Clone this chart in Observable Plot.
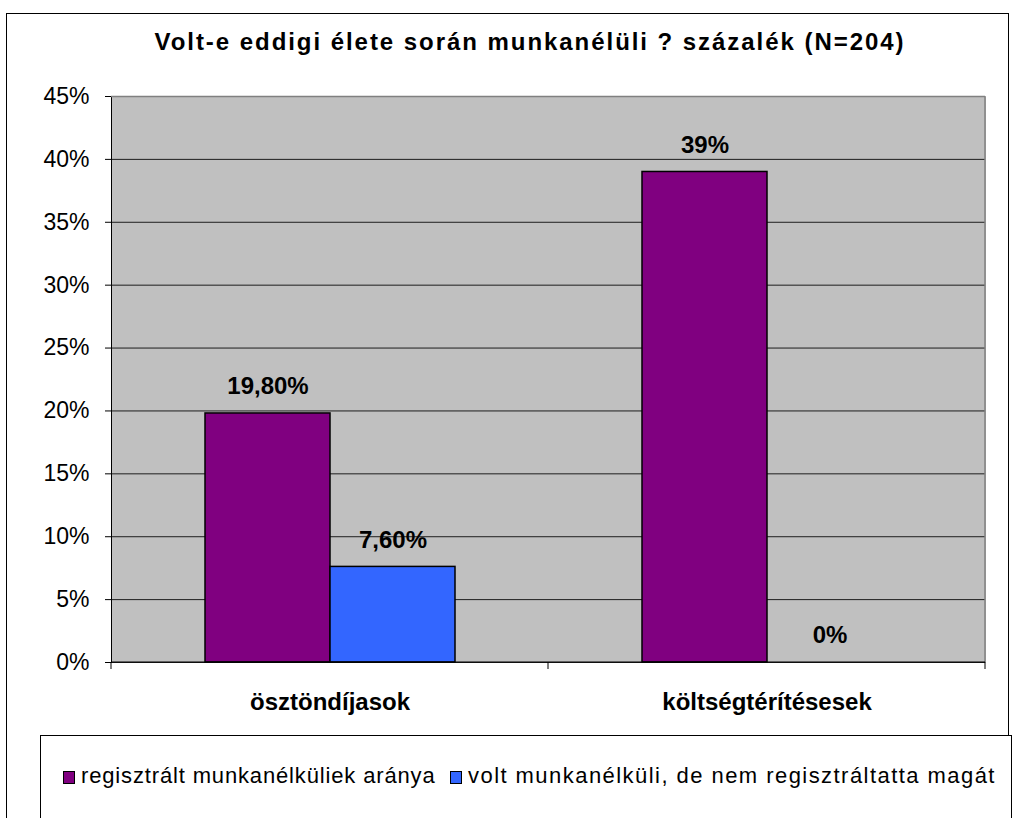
<!DOCTYPE html>
<html><head><meta charset="utf-8">
<script src="https://cdn.jsdelivr.net/npm/d3@7"></script>
<script src="https://cdn.jsdelivr.net/npm/@observablehq/plot@0.6"></script>
<style>
body{margin:0;background:#fff;font-family:"Liberation Sans",Arial,sans-serif;}
#wrap{position:relative;width:1014px;height:818px;overflow:hidden;background:#fff;}
#frame{position:absolute;left:6px;top:13px;width:1003px;height:900px;border:1px solid #000;box-sizing:border-box;}
#title{position:absolute;left:0;top:28px;width:1060px;text-align:center;font-weight:bold;font-size:24px;letter-spacing:1.95px;color:#000;white-space:nowrap;}
#chart{position:absolute;left:0;top:0;}
#legend{position:absolute;left:40px;top:735px;width:972px;height:200px;border:1px solid #000;box-sizing:border-box;background:#fff;}
.item{position:absolute;top:28px;font-size:22px;color:#000;white-space:nowrap;line-height:24px;}
.item0{letter-spacing:0.85px;}
.item1{letter-spacing:1.45px;}
.sw{display:inline-block;width:10px;height:11px;border:1.5px solid #000;vertical-align:-1px;margin-right:6px;}
</style></head><body>
<div id="wrap">
 <div id="frame"></div>
 <div id="title">Volt-e eddigi élete során munkanélüli ? százalék (N=204)</div>
 <div id="chart"></div>
 <div id="legend"></div>
</div>
<script>
const categories = ["ösztöndíjasok", "költségtérítésesek"];
const seriesNames = ["regisztrált munkanélküliek aránya", "volt munkanélküli, de nem regisztráltatta magát"];
const registered = [19.8, 39];
const unregistered = [7.6, 0];
const registeredLabels = ["19,80%", "39%"];
const unregisteredLabels = ["7,60%", "0%"];
const yTicks = [0, 5, 10, 15, 20, 25, 30, 35, 40, 45];
const colors = ["#800080", "#3366FF"];

const data = categories.flatMap((c, i) => [
  {cat: c, series: seriesNames[0], value: registered[i], label: registeredLabels[i]},
  {cat: c, series: seriesNames[1], value: unregistered[i], label: unregisteredLabels[i]}
]);

const plot = Plot.plot({
  width: 1014, height: 720,
  marginLeft: 110, marginRight: 29, marginTop: 96, marginBottom: 58,
  style: {fontFamily: '"Liberation Sans", Arial, sans-serif', fontSize: "23px", background: "transparent", color: "#000", overflow: "visible"},
  fx: {domain: categories, padding: 0, axis: null, label: null},
  x: {domain: seriesNames, paddingInner: 0, paddingOuter: 0.736, axis: null},
  y: {domain: [0, 45], ticks: yTicks, tickFormat: d => d + "%", tickSize: 6, tickPadding: 16, label: null, line: true},
  color: {domain: seriesNames, range: colors},
  marks: [
    Plot.frame({fill: "#C0C0C0", shapeRendering: "crispEdges"}),
    Plot.ruleY(yTicks, {stroke: "#000", strokeOpacity: 0.85}),
    Plot.ruleY([45], {stroke: "#808080", strokeWidth: 1.5}),
    Plot.barY(data, {fx: "cat", x: "series", y: "value", fill: "series", stroke: "#000", strokeWidth: 1.5}),
    Plot.text(data, {fx: "cat", x: "series", y: "value", text: "label", dy: -27, fontWeight: "bold", fontSize: 24, fill: "#000"}),
    Plot.text(categories, {fx: d => d, text: d => d, frameAnchor: "bottom", lineAnchor: "middle", dy: 40, fontWeight: "bold", fontSize: 24, fill: "#000"})
  ]
});
document.getElementById("chart").appendChild(plot);

// category boundary ticks and right border of the plot area, from the library's scales
const fxs = plot.scale("fx");
const ys = plot.scale("y");
const y0 = ys.apply(0), yTop = ys.apply(45);
const edges = categories.map(c => fxs.apply(c));
edges.push(fxs.apply(categories[categories.length - 1]) + fxs.bandwidth);
const svg = d3.select(plot);
svg.append("g").selectAll("line").data(edges).join("line")
  .attr("x1", d => d).attr("x2", d => d).attr("y1", y0).attr("y2", y0 + 7)
  .attr("stroke", "#000");
svg.append("line").attr("x1", edges[edges.length - 1]).attr("x2", edges[edges.length - 1])
  .attr("y1", yTop).attr("y2", y0).attr("stroke", "#808080").attr("stroke-width", 1.5);
svg.append("line").attr("x1", edges[0]).attr("x2", edges[edges.length - 1])
  .attr("y1", y0).attr("y2", y0).attr("stroke", "#000");

// legend
const legend = d3.select("#legend");
const legendX = [22, 409];
seriesNames.forEach((s, i) => {
  const it = legend.append("div").attr("class", "item item" + i).style("left", legendX[i] + "px");
  it.append("span").attr("class", "sw").style("background", colors[i]);
  it.append("span").text(s);
});
</script>
</body></html>
